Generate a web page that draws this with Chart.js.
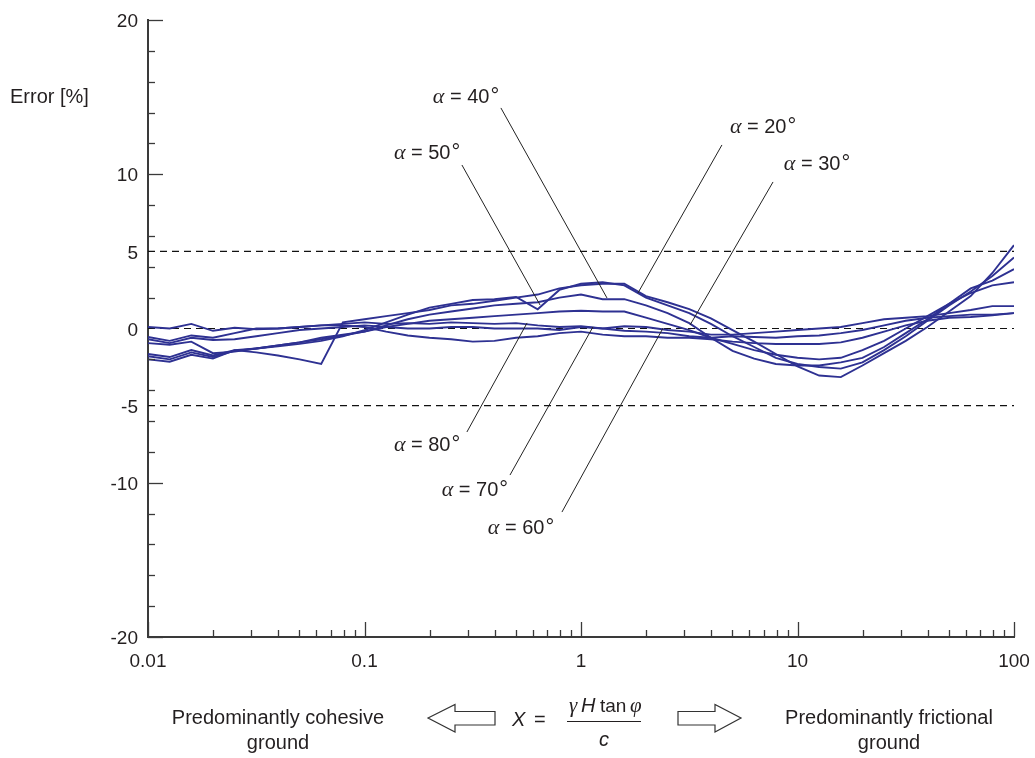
<!DOCTYPE html>
<html><head><meta charset="utf-8">
<script src="https://cdn.jsdelivr.net/npm/chart.js@4.4.1/dist/chart.umd.min.js"></script>
<style>html,body{margin:0;padding:0;background:#fff}canvas{display:block}</style>
</head><body>
<canvas id="c" width="1035" height="758"></canvas>
<script>
// ---- data ----
const xExponents = [-2.0,-1.9,-1.8,-1.7,-1.6,-1.5,-1.4,-1.3,-1.2,-1.1,
  -1.0,-0.9,-0.8,-0.7,-0.6,-0.5,-0.4,-0.3,-0.2,-0.1,
  0.0,0.1,0.2,0.3,0.4,0.5,0.6,0.7,0.8,0.9,
  1.0,1.1,1.2,1.3,1.4,1.5,1.6,1.7,1.8,1.9,2.0];

const alpha20 = [-2.0,-2.15,-1.7,-1.95,-1.4,-1.55,-1.75,-2.0,-2.3,0.4,
  0.6,0.8,1.0,1.2,1.5,1.6,1.8,2.0,2.2,2.6,
  2.8,2.9,2.9,2.1,1.7,1.25,0.65,-0.1,-0.85,-1.65,
  -2.45,-3.05,-3.15,-2.4,-1.6,-0.8,0.1,1.1,2.1,3.6,5.4];
const alpha50 = [-1.8,-2.0,-1.55,-1.85,-1.45,-1.3,-1.15,-1.0,-0.8,-0.5,
  -0.1,0.4,0.9,1.35,1.6,1.85,1.9,2.05,1.25,2.5,
  2.9,3.0,2.8,2.0,1.5,1.0,0.3,-0.5,-1.2,-1.9,
  -2.3,-2.5,-2.6,-2.2,-1.4,-0.5,0.5,1.5,2.4,3.4,4.6];
const alpha40 = [-1.65,-1.85,-1.4,-1.75,-1.4,-1.3,-1.1,-0.9,-0.7,-0.45,
  -0.2,0.2,0.6,0.9,1.1,1.3,1.5,1.6,1.7,2.0,
  2.2,1.9,1.9,1.5,1.0,0.35,-0.6,-1.45,-1.95,-2.3,
  -2.4,-2.4,-2.2,-1.9,-1.2,-0.3,0.6,1.6,2.6,3.1,3.85];
const alpha30 = [-0.95,-1.05,-0.85,-1.6,-1.5,-1.3,-1.1,-0.9,-0.6,-0.4,
  -0.2,0.1,0.3,0.5,0.6,0.7,0.8,0.9,1.0,1.1,
  1.15,1.1,1.1,0.7,0.3,-0.1,-0.6,-1.0,-1.4,-1.7,
  -1.9,-2.0,-1.9,-1.4,-0.8,0.0,0.8,1.6,2.3,2.8,3.0];
const alpha80 = [-0.55,-0.8,-0.45,-0.6,-0.3,0.0,0.0,0.1,0.2,0.3,
  0.4,0.3,0.35,0.3,0.4,0.35,0.3,0.35,0.2,0.1,
  0.15,0.0,0.15,0.1,-0.1,-0.2,-0.4,-0.4,-0.3,-0.2,
  -0.1,0.0,0.1,0.35,0.6,0.7,0.8,1.0,1.2,1.45,1.45];
const alpha70 = [-0.7,-0.95,-0.6,-0.75,-0.7,-0.5,-0.3,-0.1,0.0,0.1,
  0.2,0.1,0.0,0.0,0.1,0.1,0.0,0.0,0.0,-0.1,
  0.1,0.0,-0.15,-0.2,-0.3,-0.5,-0.6,-0.5,-0.55,-0.6,
  -0.5,-0.45,-0.3,-0.1,0.2,0.5,0.7,0.8,0.9,0.9,1.0];
const alpha60 = [0.1,0.0,0.3,-0.15,0.05,-0.05,0.0,0.1,0.2,0.2,
  0.1,-0.2,-0.45,-0.6,-0.7,-0.85,-0.8,-0.6,-0.5,-0.3,
  -0.2,-0.4,-0.5,-0.5,-0.6,-0.6,-0.7,-0.85,-0.95,-1.0,
  -1.0,-1.0,-0.9,-0.6,-0.2,0.2,0.5,0.7,0.75,0.85,1.0];

const seriesNames = ['20','50','40','30','80','70','60'];
const seriesValues = [alpha20, alpha50, alpha40, alpha30, alpha80, alpha70, alpha60];

const refLevels = [5, 0, -5];
const xTickValues = [0.01, 0.1, 1, 10, 100];
const yTickValues = [20, 10, 5, 0, -5, -10, -20];
const yMajorTicks = [20, 10, -10, -20];
const yMinorTicks = [18,16,14,12,8,6,4,2,-2,-4,-6,-8,-12,-14,-16,-18];
const xMinorFactors = [2,3,4,5,6,7,8,9];

// annotation labels: angle, label centre (log10 x, y), leader start, leader end
const labelAngles = ['40','50','20','30','80','70','60'];
const labelPos   = [[-0.531,15.07],[-0.711,11.44],[0.841,13.13],[1.090,10.73],[-0.711,-7.49],[-0.490,-10.41],[-0.277,-12.87]];
const leaderFrom = [[-0.370,14.30],[-0.550,10.60],[0.651,11.90],[0.887,9.50],[-0.527,-6.71],[-0.328,-9.50],[-0.088,-11.90]];
const leaderTo   = [[0.120,1.98],[-0.189,1.52],[0.263,2.30],[0.504,0.23],[-0.249,0.36],[0.055,0.10],[0.379,0.03]];

// ---- styles ----
const SERIES_COLOR = '#2e3192';
const AXIS_COLOR = '#3a3a3a';
const TEXT_COLOR = '#231f20';
const SANS = '"Liberation Sans", Arial, Helvetica, sans-serif';
const SERIF = '"Liberation Serif", "Times New Roman", serif';

Chart.defaults.font.family = SANS;
Chart.defaults.color = TEXT_COLOR;

const datasets = seriesValues.map((vals, k) => ({
  label: 'α = ' + seriesNames[k] + '°',
  data: xExponents.map((e, i) => ({x: Math.pow(10, e), y: vals[i]})),
  borderColor: SERIES_COLOR, borderWidth: 1.9, pointRadius: 0, tension: 0, fill: false, order: 1
}));
refLevels.forEach(v => datasets.push({
  label: 'ref ' + v,
  data: [{x: xTickValues[0], y: v}, {x: xTickValues[xTickValues.length - 1], y: v}],
  borderColor: '#111', borderWidth: 1.2, borderDash: [7, 5], pointRadius: 0, order: 2
}));

const decor = {
  id: 'decor',
  afterDraw(chart) {
    const {ctx, chartArea: ca} = chart;
    const xs = chart.scales.x, ys = chart.scales.y;
    const px = lg => xs.getPixelForValue(Math.pow(10, lg));
    const py = v => ys.getPixelForValue(v);
    ctx.save();
    // inward tick marks
    ctx.strokeStyle = AXIS_COLOR; ctx.lineWidth = 1.3;
    const hTick = (v, len) => { const y = Math.round(py(v)) + 0.5; ctx.beginPath(); ctx.moveTo(ca.left, y); ctx.lineTo(ca.left + len, y); ctx.stroke(); };
    yMinorTicks.forEach(v => hTick(v, 7));
    yMajorTicks.forEach(v => hTick(v, 15));
    const vTick = (v, len) => { const x = Math.round(xs.getPixelForValue(v)) + 0.5; ctx.beginPath(); ctx.moveTo(x, ca.bottom); ctx.lineTo(x, ca.bottom - len); ctx.stroke(); };
    xTickValues.forEach((d, i) => {
      vTick(d, 15);
      if (i < xTickValues.length - 1) xMinorFactors.forEach(f => vTick(d * f, 7));
    });
    // leader lines
    ctx.strokeStyle = '#222'; ctx.lineWidth = 1;
    for (let k = 0; k < labelAngles.length; k++) {
      ctx.beginPath();
      ctx.moveTo(px(leaderFrom[k][0]), py(leaderFrom[k][1]));
      ctx.lineTo(px(leaderTo[k][0]), py(leaderTo[k][1]));
      ctx.stroke();
    }
    // labels
    ctx.fillStyle = TEXT_COLOR; ctx.textBaseline = 'alphabetic';
    for (let k = 0; k < labelAngles.length; k++) {
      const cx = px(labelPos[k][0]), cy = py(labelPos[k][1]) + 7;
      const f1 = 'italic 22px ' + SERIF, f2 = '20px ' + SANS, f3 = '22px ' + SANS;
      ctx.font = f1; const w1 = ctx.measureText('α').width;
      const t2 = ' = ' + labelAngles[k];
      ctx.font = f2; const w2 = ctx.measureText(t2).width;
      ctx.font = f3; const w3 = ctx.measureText('°').width;
      let x = cx - (w1 + w2 + w3 + 1) / 2;
      ctx.textAlign = 'left';
      ctx.font = f1; ctx.fillText('α', x, cy); x += w1;
      ctx.font = f2; ctx.fillText(t2, x, cy); x += w2 + 1;
      ctx.font = f3; ctx.fillText('°', x, cy);
    }
    // y title
    ctx.font = '20px ' + SANS; ctx.textAlign = 'left'; ctx.textBaseline = 'middle';
    ctx.fillText('Error [%]', 10, 97);
    // bottom texts
    ctx.textAlign = 'center'; ctx.textBaseline = 'middle';
    ctx.fillText('Predominantly cohesive', 278, 718);
    ctx.fillText('ground', 278, 743);
    ctx.fillText('Predominantly frictional', 889, 718);
    ctx.fillText('ground', 889, 743);
    // arrows
    ctx.strokeStyle = '#333'; ctx.lineWidth = 1.2; ctx.fillStyle = '#fff';
    const poly = pts => { ctx.beginPath(); ctx.moveTo(pts[0][0], pts[0][1]); pts.slice(1).forEach(p => ctx.lineTo(p[0], p[1])); ctx.closePath(); ctx.fill(); ctx.stroke(); };
    poly([[428,718],[455,704.5],[455,711.5],[495,711.5],[495,725],[455,725],[455,732]]);
    poly([[678,711.5],[715,711.5],[715,704.5],[741,718],[715,732],[715,725],[678,725]]);
    // formula
    ctx.fillStyle = TEXT_COLOR; ctx.textAlign = 'left'; ctx.textBaseline = 'alphabetic';
    ctx.font = 'italic 20px ' + SANS; ctx.fillText('X', 512, 726);
    ctx.font = '20px ' + SANS; ctx.fillText('=', 534, 726);
    ctx.font = 'italic 21px ' + SERIF; ctx.fillText('γ', 569, 712);
    ctx.font = 'italic 20px ' + SANS; ctx.fillText('H', 581, 712);
    ctx.font = '19px ' + SANS; ctx.fillText('tan', 600, 712);
    ctx.font = 'italic 21px ' + SERIF; ctx.fillText('φ', 630, 712);
    ctx.font = 'italic 20px ' + SANS; ctx.textAlign = 'center'; ctx.fillText('c', 604, 746);
    ctx.strokeStyle = TEXT_COLOR; ctx.lineWidth = 1.2;
    ctx.beginPath(); ctx.moveTo(567, 721.5); ctx.lineTo(641, 721.5); ctx.stroke();
    ctx.restore();
  }
};

new Chart(document.getElementById('c'), {
  type: 'line',
  data: {datasets},
  options: {
    responsive: false, animation: false, devicePixelRatio: 1,
    layout: {padding: {top: 20, right: 21, left: 0, bottom: 0}},
    plugins: {legend: {display: false}, tooltip: {enabled: false}},
    scales: {
      x: {
        type: 'logarithmic', min: xTickValues[0], max: xTickValues[xTickValues.length - 1],
        afterBuildTicks: s => { s.ticks = xTickValues.map(v => ({value: v})); },
        afterFit: s => { s.height = 121; s.paddingLeft = 0; s.paddingRight = 0; },
        ticks: {autoSkip: false, maxRotation: 0, padding: 13, color: TEXT_COLOR, font: {size: 19},
          callback: v => String(v)},
        grid: {display: false, drawTicks: false},
        border: {display: true, color: AXIS_COLOR, width: 2}
      },
      y: {
        type: 'linear', min: -20, max: 20,
        afterBuildTicks: s => { s.ticks = yTickValues.map(v => ({value: v})); },
        afterFit: s => { s.width = 148; s.paddingTop = 0; s.paddingBottom = 0; },
        ticks: {autoSkip: false, padding: 10, labelOffset: 2, color: TEXT_COLOR, font: {size: 19},
          callback: v => String(v)},
        grid: {display: false, drawTicks: false},
        border: {display: true, color: AXIS_COLOR, width: 2}
      }
    }
  },
  plugins: [decor]
});
</script>
</body></html>
